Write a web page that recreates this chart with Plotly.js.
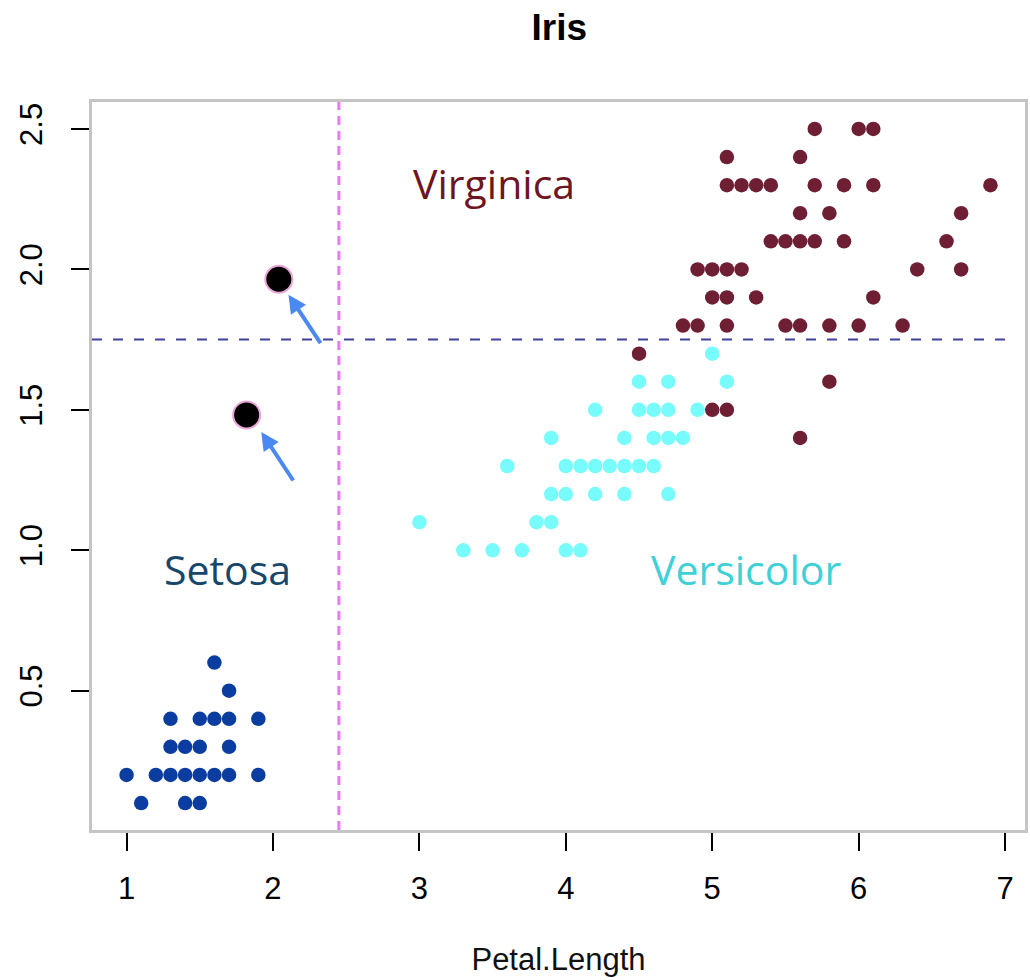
<!DOCTYPE html>
<html>
<head>
<meta charset="utf-8">
<script src="https://cdn.plot.ly/plotly-3.0.1.min.js"></script>
<style>html,body{margin:0;padding:0;background:#fff;}#chart{width:1030px;height:980px;}</style>
</head>
<body>
<div id="chart"></div>
<script>
// Petal.Length / Petal.Width (distinct points as drawn)
const setosaLength = [1.6, 1.7, 1.3, 1.5, 1.6, 1.7, 1.9, 1.3, 1.4, 1.5, 1.7, 1.0, 1.2, 1.3, 1.4, 1.5, 1.6, 1.7, 1.9, 1.1, 1.4, 1.5];
const setosaWidth  = [0.6, 0.5, 0.4, 0.4, 0.4, 0.4, 0.4, 0.3, 0.3, 0.3, 0.3, 0.2, 0.2, 0.2, 0.2, 0.2, 0.2, 0.2, 0.2, 0.1, 0.1, 0.1];

const versicolorLength = [5.0, 4.5, 4.7, 5.1, 4.2, 4.5, 4.6, 4.7, 4.9, 3.9, 4.4, 4.6, 4.7, 4.8, 3.6, 4.0, 4.1, 4.2, 4.3, 4.4, 4.5, 4.6, 3.9, 4.0, 4.2, 4.4, 4.7, 3.0, 3.8, 3.9, 3.3, 3.5, 3.7, 4.0, 4.1];
const versicolorWidth  = [1.7, 1.6, 1.6, 1.6, 1.5, 1.5, 1.5, 1.5, 1.5, 1.4, 1.4, 1.4, 1.4, 1.4, 1.3, 1.3, 1.3, 1.3, 1.3, 1.3, 1.3, 1.3, 1.2, 1.2, 1.2, 1.2, 1.2, 1.1, 1.1, 1.1, 1.0, 1.0, 1.0, 1.0, 1.0];

const virginicaLength = [5.7, 6.0, 6.1, 5.1, 5.6, 5.1, 5.2, 5.3, 5.4, 5.7, 5.9, 6.1, 6.9, 5.6, 5.8, 6.7, 5.4, 5.5, 5.6, 5.7, 5.9, 6.6, 4.9, 5.0, 5.1, 5.2, 6.4, 6.7, 5.0, 5.1, 5.3, 6.1, 4.8, 4.9, 5.1, 5.5, 5.6, 5.8, 6.0, 6.3, 4.5, 5.8, 5.0, 5.1, 5.6];
const virginicaWidth  = [2.5, 2.5, 2.5, 2.4, 2.4, 2.3, 2.3, 2.3, 2.3, 2.3, 2.3, 2.3, 2.3, 2.2, 2.2, 2.2, 2.1, 2.1, 2.1, 2.1, 2.1, 2.1, 2.0, 2.0, 2.0, 2.0, 2.0, 2.0, 1.9, 1.9, 1.9, 1.9, 1.8, 1.8, 1.8, 1.8, 1.8, 1.8, 1.8, 1.8, 1.7, 1.6, 1.5, 1.5, 1.4];

const newLength = [2.04, 1.82];
const newWidth  = [1.965, 1.482];

const xTicks = [1, 2, 3, 4, 5, 6, 7];
const yTicks = [0.5, 1.0, 1.5, 2.0, 2.5];
const yTickText = ['0.5', '1.0', '1.5', '2.0', '2.5'];

const splitLength = 2.45;
const splitWidth = 1.75;

const speciesLabels = ['Virginica', 'Setosa', 'Versicolor'];
const labelX = [3.51, 1.69, 5.23];
const labelY = [2.308, 0.935, 0.935];
const labelColors = ['#6e1522', '#17476b', '#3fd0d8'];

const arrowTipX = [2.106, 1.92];
const arrowTipY = [1.91, 1.421];

const dot = (c, s) => ({color: c, size: s});

const traces = [
  {x: setosaLength, y: setosaWidth, type: 'scatter', mode: 'markers', name: 'setosa', marker: dot('#0a3d9f', 14.5), hoverinfo: 'x+y'},
  {x: versicolorLength, y: versicolorWidth, type: 'scatter', mode: 'markers', name: 'versicolor', marker: dot('#78fbfb', 14.5), hoverinfo: 'x+y'},
  {x: virginicaLength, y: virginicaWidth, type: 'scatter', mode: 'markers', name: 'virginica', marker: dot('#6f1f34', 14.5), hoverinfo: 'x+y'},
  {x: newLength, y: newWidth, type: 'scatter', mode: 'markers', name: 'new', marker: {color: '#000000', size: 27, line: {color: '#eaa6d6', width: 2}}, hoverinfo: 'x+y'}
];

const annotations = speciesLabels.map((t, i) => ({
  x: labelX[i], y: labelY[i], xref: 'x', yref: 'y', text: t, showarrow: false,
  font: {family: 'Open Sans, Noto Sans, sans-serif', size: 41, color: labelColors[i]},
  xanchor: 'center', yanchor: 'middle'
}));
arrowTipX.forEach((ax, i) => {
  annotations.push({
    x: ax, y: arrowTipY[i], xref: 'x', yref: 'y', text: '', showarrow: true,
    ax: 33, ay: 50, arrowhead: 2, arrowsize: 0.9, arrowwidth: 4, arrowcolor: '#4a88f2', standoff: 0
  });
});

const layout = {
  width: 1030, height: 980,
  margin: {l: 92, r: 5, t: 102, b: 150},
  paper_bgcolor: '#ffffff', plot_bgcolor: '#ffffff',
  showlegend: false,
  font: {family: 'Liberation Sans, Arial, sans-serif', color: '#000000'},
  title: {text: '<b>Iris</b>', x: 0.543, xanchor: 'center', y: 0.972, yanchor: 'middle', yref: 'container',
          font: {family: 'Liberation Sans, Arial, sans-serif', size: 37, color: '#000000'}},
  xaxis: {
    range: [0.764, 7.136], tickmode: 'array', tickvals: xTicks, ticktext: xTicks.map(String),
    showgrid: false, zeroline: false, showline: true, mirror: true, linecolor: '#c4c4c4', linewidth: 3,
    ticks: 'outside', ticklen: 18, tickwidth: 2, tickcolor: '#000000', ticklabelstandoff: 11,
    tickfont: {size: 31, color: '#000000'},
    title: {text: 'Petal.Length', font: {size: 31, color: '#111111'}, standoff: 44}
  },
  yaxis: {
    range: [0.004, 2.596], tickmode: 'array', tickvals: yTicks, ticktext: yTickText, tickangle: -90,
    showgrid: false, zeroline: false, showline: true, mirror: true, linecolor: '#c4c4c4', linewidth: 3,
    ticks: 'outside', ticklen: 18, tickwidth: 2, tickcolor: '#000000', ticklabelstandoff: 17,
    tickfont: {size: 31, color: '#000000'}
  },
  shapes: [
    {type: 'line', xref: 'x', yref: 'paper', x0: splitLength, x1: splitLength, y0: 0, y1: 1,
     line: {color: '#ea7af4', width: 3, dash: '9px,6px'}},
    {type: 'line', xref: 'x', yref: 'y', x0: 0.764, x1: 7.0, y0: splitWidth, y1: splitWidth,
     line: {color: '#40409e', width: 2, dash: '10px,11px'}}
  ],
  annotations: annotations
};

Plotly.newPlot('chart', traces, layout, {displayModeBar: false, staticPlot: true});
</script>
</body>
</html>
